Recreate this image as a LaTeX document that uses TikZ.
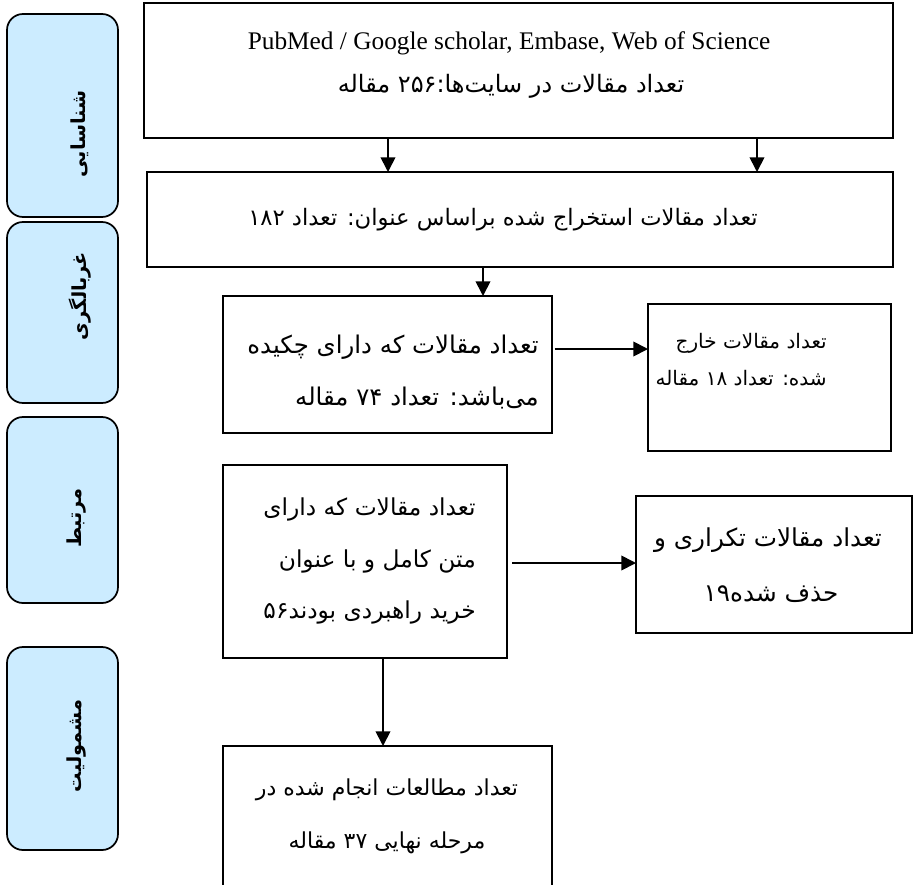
\documentclass[tikz,border=0pt]{standalone}
\usepackage{fontspec}
\setmainfont{Liberation Serif}
\newfontfamily\fa[Script=Arabic]{DejaVu Sans}
\TeXXeTstate=1
\usetikzlibrary{arrows.meta}
\definecolor{sidefill}{HTML}{CCECFF}
\tikzset{
  box/.style={draw=black, line width=1.3pt, inner sep=0pt, outer sep=0pt, fill=white},
  sidebox/.style={draw=black, line width=1.3pt, fill=sidefill, rounded corners=12pt, inner sep=0pt, outer sep=0pt},
  sidelabel/.style={rotate=90, inner sep=0pt, font=\fa\bfseries\fontsize{14.5}{16}\selectfont},
  txt/.style={inner sep=0pt, font=\fa\fontsize{17.5}{20}\selectfont},
  smalltxt/.style={inner sep=0pt, font=\fa\fontsize{15}{18}\selectfont},
  arr/.style={line width=1.3pt, -{Triangle[length=11pt,width=11pt]}},
}
\newcommand{\bx}[6][box]{\node[#1, minimum width={(#5-#3)*0.75pt}, minimum height={(#6-#4)*0.75pt}] (#2) at ({(#3+#5)/2},{(#4+#6)/2}) {};}
\begin{document}
\begin{tikzpicture}[x=0.75pt,y=-0.75pt]
\useasboundingbox (0,0) rectangle (914,885);
\clip (0,0) rectangle (914,885);
% side stage boxes
\bx[sidebox]{s1}{7}{14}{118}{217}
\bx[sidebox]{s2}{7}{222}{118}{403}
\bx[sidebox]{s3}{7}{417}{118}{603}
\bx[sidebox]{s4}{7}{647}{118}{850}
\node[sidelabel] (l1) at (80,134) {\beginR شناسایی\endR};
\node[sidelabel] (l2) at (80,296) {\beginR غربالگری\endR};
\node[sidelabel] (l3) at (77,518) {\beginR مرتبط\endR};
\node[sidelabel] (l4) at (77,746) {\beginR مشمولیت\endR};
% main boxes
\bx{A}{144}{3}{893}{138}
\bx{B}{147}{172}{893}{267}
\bx{C}{223}{296}{552}{433}
\bx{D}{648}{304}{891}{451}
\bx{E}{223}{465}{507}{658}
\bx{F}{636}{496}{912}{633}
\bx{G}{223}{746}{552}{900}
% texts
\node[inner sep=0pt, font=\fontsize{19}{22}\selectfont] (a1) at (509,43) {PubMed / Google scholar, Embase, Web of Science};
\node[txt, font=\fa\fontsize{18}{20}\selectfont] (a2) at (511,86) {\beginR تعداد مقالات در سایت‌ها:۲۵۶ مقاله\endR};
\node[txt, font=\fa\fontsize{17}{20}\selectfont] (b1) at (503,220) {\beginR تعداد مقالات استخراج شده براساس عنوان: تعداد ۱۸۲\endR};
\node[txt, font=\fa\fontsize{18.3}{20}\selectfont, anchor=east] (c1) at (539,347) {\beginR تعداد مقالات که دارای چکیده\endR};
\node[txt, font=\fa\fontsize{18.3}{20}\selectfont, anchor=east] (c2) at (539,398) {\beginR می‌باشد: تعداد ۷۴ مقاله\endR};
\node[smalltxt, anchor=east] (d1) at (827,343) {\beginR تعداد مقالات خارج\endR};
\node[smalltxt, anchor=east] (d2) at (827,378) {\beginR شده: تعداد ۱۸ مقاله\endR};
\node[txt, anchor=east] (e1) at (476,509) {\beginR تعداد مقالات که دارای\endR};
\node[txt, anchor=east] (e2) at (476,561) {\beginR متن کامل و با عنوان\endR};
\node[txt, anchor=east] (e3) at (476,612) {\beginR خرید راهبردی بودند۵۶\endR};
\node[txt, font=\fa\fontsize{18.5}{20}\selectfont] (f1) at (768,540) {\beginR تعداد مقالات تکراری و\endR};
\node[txt, font=\fa\fontsize{18.5}{20}\selectfont] (f2) at (771,594) {\beginR حذف شده۱۹\endR};
\node[txt, font=\fa\fontsize{16.5}{20}\selectfont] (g1) at (387,790) {\beginR تعداد مطالعات انجام شده در\endR};
\node[txt, font=\fa\fontsize{16.5}{20}\selectfont] (g2) at (387,843) {\beginR مرحله نهایی ۳۷ مقاله\endR};
% connectors
\draw[arr] (A.south -| 388,0) -- (B.north -| 388,0);
\draw[arr] (A.south -| 757,0) -- (B.north -| 757,0);
\draw[arr] (B.south -| 483,0) -- (C.north -| 483,0);
\draw[arr, shorten <=2pt] (C.east |- 0,349) -- (D.west |- 0,349);
\draw[arr, shorten <=4pt] (E.east |- 0,563) -- (F.west |- 0,563);
\draw[arr] (E.south -| 383,0) -- (G.north -| 383,0);
\end{tikzpicture}
\end{document}
